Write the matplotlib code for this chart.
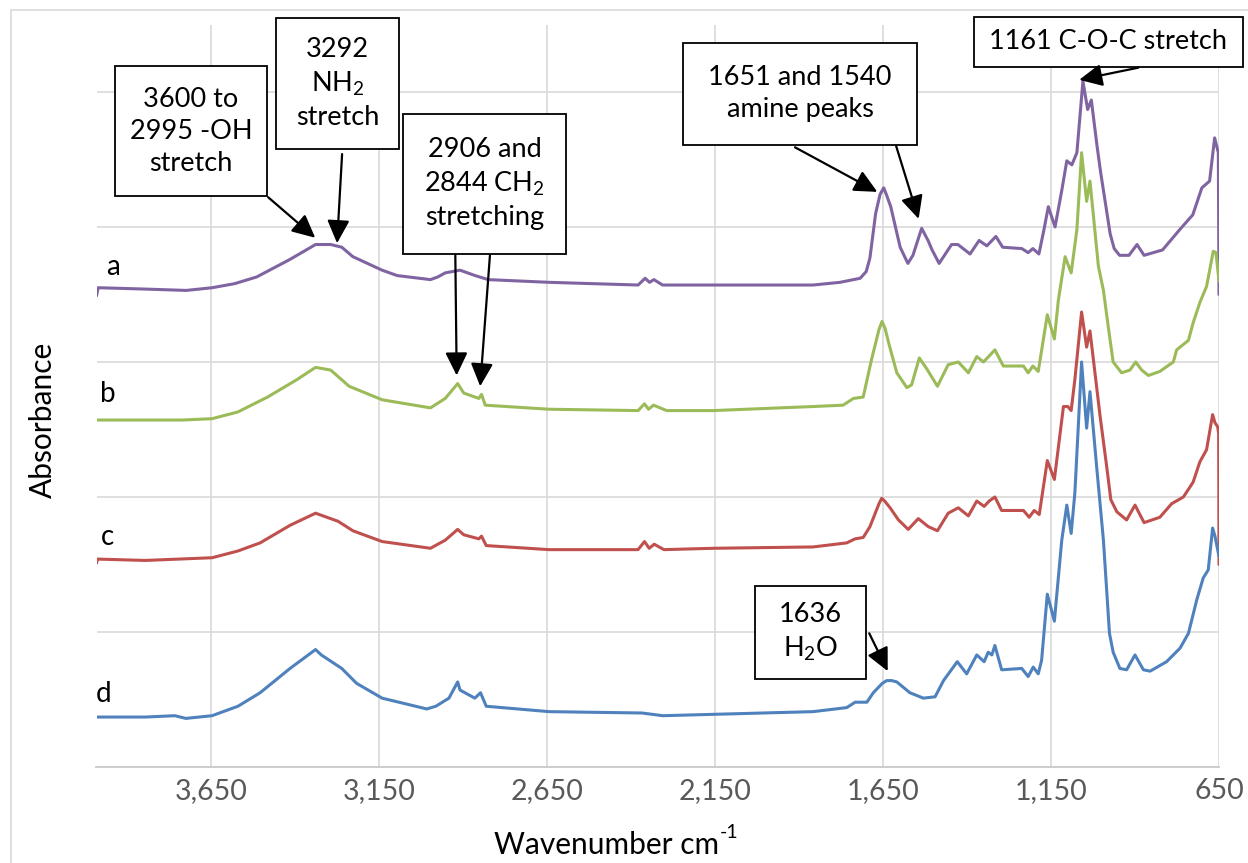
import matplotlib
matplotlib.use("Agg")
import matplotlib.pyplot as plt
from matplotlib.patches import Rectangle

plt.rcParams['font.family'] = ['Lato', 'DejaVu Sans']
plt.rcParams['mathtext.fontset'] = 'custom'
plt.rcParams['mathtext.rm'] = 'Lato'
plt.rcParams['mathtext.it'] = 'Lato:italic'
plt.rcParams['mathtext.bf'] = 'Lato:bold'

# ---- FTIR spectra (wavenumber in cm-1, stacked absorbance) ----
wn_a = [3991, 3986, 3846, 3724, 3647, 3580, 3514, 3415, 3339, 3294, 3261, 3228, 3141,
        3096, 2997, 2975, 2953, 2909, 2864, 2825, 2644, 2379, 2358, 2345, 2332, 2306,
        2156, 1858, 1778, 1718, 1700, 1689, 1672, 1659, 1648, 1640, 1627, 1599, 1576,
        1561, 1535, 1516, 1504, 1483, 1446, 1427, 1391, 1364, 1341, 1314, 1294, 1237,
        1218, 1204, 1186, 1171, 1158, 1138, 1118, 1103, 1088, 1073, 1055, 1041, 1030,
        1013, 1002, 974, 962, 946, 918, 894, 873, 818, 767, 728, 701, 678, 663, 656,
        652, 650]
abs_a = [0.349, 0.355, 0.354, 0.353, 0.355, 0.358, 0.363, 0.376, 0.387, 0.387, 0.385,
         0.378, 0.368, 0.364, 0.361, 0.363, 0.366, 0.368, 0.364, 0.361, 0.359, 0.357,
         0.362, 0.359, 0.361, 0.357, 0.357, 0.357, 0.359, 0.362, 0.367, 0.377, 0.410,
         0.424, 0.429, 0.424, 0.415, 0.385, 0.373, 0.379, 0.399, 0.390, 0.383, 0.373,
         0.387, 0.387, 0.380, 0.390, 0.386, 0.393, 0.385, 0.384, 0.381, 0.384, 0.380,
         0.398, 0.415, 0.400, 0.427, 0.449, 0.446, 0.455, 0.508, 0.487, 0.494, 0.460,
         0.440, 0.395, 0.384, 0.379, 0.379, 0.387, 0.379, 0.383, 0.398, 0.409, 0.429,
         0.434, 0.466, 0.459, 0.455, 0.350]

wn_b = [3991, 3736, 3647, 3570, 3482, 3394, 3339, 3294, 3239, 3141, 2997, 2953, 2916,
        2898, 2853, 2845, 2834, 2644, 2379, 2360, 2348, 2333, 2294, 2156, 1858, 1769,
        1738, 1709, 1684, 1662, 1653, 1644, 1632, 1609, 1579, 1565, 1542, 1520, 1488,
        1456, 1426, 1396, 1371, 1351, 1332, 1317, 1292, 1232, 1218, 1204, 1188, 1161,
        1140, 1128, 1108, 1090, 1073, 1059, 1044, 1034, 1009, 994, 979, 965, 940, 915,
        898, 880, 860, 826, 786, 776, 741, 727, 707, 687, 667, 659, 653, 650]
abs_b = [0.257, 0.257, 0.258, 0.263, 0.274, 0.287, 0.296, 0.294, 0.282, 0.272, 0.266,
         0.273, 0.284, 0.277, 0.273, 0.276, 0.268, 0.265, 0.264, 0.269, 0.265, 0.268,
         0.264, 0.264, 0.267, 0.268, 0.273, 0.274, 0.302, 0.324, 0.330, 0.325, 0.313,
         0.292, 0.281, 0.283, 0.303, 0.295, 0.282, 0.298, 0.300, 0.292, 0.304, 0.300,
         0.305, 0.309, 0.297, 0.297, 0.292, 0.297, 0.293, 0.335, 0.317, 0.346, 0.378,
         0.366, 0.398, 0.455, 0.419, 0.434, 0.371, 0.353, 0.325, 0.300, 0.292, 0.294,
         0.300, 0.294, 0.290, 0.293, 0.300, 0.309, 0.316, 0.329, 0.344, 0.356, 0.382,
         0.381, 0.367, 0.360]

wn_c = [3991, 3988, 3846, 3647, 3570, 3504, 3415, 3339, 3272, 3228, 3141, 2997, 2953,
        2916, 2898, 2853, 2845, 2831, 2644, 2379, 2360, 2346, 2331, 2302, 2156, 1858,
        1758, 1733, 1709, 1689, 1662, 1654, 1645, 1629, 1604, 1575, 1545, 1515, 1488,
        1456, 1426, 1396, 1371, 1349, 1334, 1317, 1297, 1232, 1215, 1200, 1185, 1161,
        1140, 1113, 1100, 1090, 1079, 1059, 1044, 1034, 1024, 1004, 984, 972, 954, 925,
        900, 873, 826, 791, 756, 727, 707, 687, 669, 662, 654, 651, 650]
abs_c = [0.151, 0.154, 0.153, 0.155, 0.160, 0.166, 0.179, 0.188, 0.182, 0.175, 0.167,
         0.162, 0.168, 0.176, 0.172, 0.169, 0.171, 0.164, 0.161, 0.161, 0.167, 0.162,
         0.165, 0.161, 0.162, 0.163, 0.166, 0.169, 0.170, 0.178, 0.195, 0.199, 0.197,
         0.192, 0.183, 0.176, 0.184, 0.178, 0.175, 0.188, 0.192, 0.186, 0.197, 0.193,
         0.197, 0.200, 0.190, 0.190, 0.185, 0.190, 0.187, 0.227, 0.213, 0.267, 0.267,
         0.264, 0.287, 0.337, 0.311, 0.323, 0.302, 0.260, 0.222, 0.198, 0.189, 0.183,
         0.194, 0.181, 0.185, 0.195, 0.200, 0.211, 0.226, 0.235, 0.261, 0.255, 0.252,
         0.247, 0.150]

wn_d = [3991, 3846, 3758, 3725, 3647, 3570, 3504, 3415, 3339, 3322, 3261, 3217, 3141,
        3008, 2981, 2942, 2916, 2909, 2865, 2848, 2831, 2644, 2368, 2305, 2156, 1858,
        1758, 1733, 1698, 1679, 1652, 1639, 1624, 1609, 1570, 1530, 1495, 1470, 1429,
        1401, 1371, 1349, 1337, 1326, 1317, 1297, 1237, 1218, 1203, 1188, 1178, 1161,
        1140, 1118, 1103, 1090, 1079, 1059, 1044, 1034, 1014, 994, 976, 965, 945, 925,
        900, 875, 855, 806, 766, 741, 716, 697, 682, 669, 662, 654, 650]
abs_d = [0.037, 0.037, 0.038, 0.036, 0.038, 0.045, 0.055, 0.073, 0.087, 0.083, 0.073,
         0.062, 0.051, 0.043, 0.045, 0.051, 0.063, 0.057, 0.051, 0.055, 0.045, 0.041,
         0.040, 0.038, 0.039, 0.041, 0.044, 0.048, 0.048, 0.055, 0.062, 0.064, 0.064,
         0.063, 0.055, 0.051, 0.052, 0.064, 0.078, 0.069, 0.083, 0.078, 0.085, 0.083,
         0.090, 0.072, 0.073, 0.067, 0.074, 0.069, 0.079, 0.128, 0.108, 0.168, 0.194,
         0.173, 0.203, 0.300, 0.251, 0.278, 0.222, 0.168, 0.099, 0.085, 0.073, 0.072,
         0.083, 0.072, 0.071, 0.078, 0.088, 0.099, 0.124, 0.140, 0.146, 0.177, 0.171,
         0.161, 0.156]

series = [
    ("a", wn_a, abs_a, "#8064A2", (3941, 0.370)),
    ("b", wn_b, abs_b, "#9BBB59", (3956, 0.276)),
    ("c", wn_c, abs_c, "#C0504D", (3959, 0.170)),
    ("d", wn_d, abs_d, "#4F81BD", (3971, 0.054)),
]

x_ticks = [3650, 3150, 2650, 2150, 1650, 1150, 650]
x_tick_labels = ["3,650", "3,150", "2,650", "2,150", "1,650", "1,150", "650"]

W, H = 1248, 863
fig = plt.figure(figsize=(W / 100, H / 100), dpi=100)
fig.patch.set_facecolor("white")

# outer chart frame
fig.add_artist(Rectangle((11 / W, -0.1), 1.5, 1.1 - 10 / H, transform=fig.transFigure,
                         fill=False, edgecolor="#D9D9D9", lw=1.2))

ax = fig.add_axes([96.5 / W, (H - 767) / H, (1219 - 96.5) / W, (767 - 25) / H])
ax.set_xlim(3991, 650)
ax.set_ylim(0, 0.5496)

for name, wn, ab, col, lab in series:
    ax.plot(wn, ab, color=col, lw=2.2, solid_joinstyle="round",
            solid_capstyle="round", zorder=3)
    ax.text(lab[0], lab[1], name, fontsize=20, ha="center", va="center", color="black")

ax.set_xticks(x_ticks)
ax.set_xticklabels(x_tick_labels)
ax.set_yticks([0.1, 0.2, 0.3, 0.4, 0.5])
ax.set_yticklabels([])
ax.tick_params(axis="x", length=0, pad=8, labelsize=20.5, labelcolor="#595959")
ax.tick_params(axis="y", length=0)
ax.grid(True, color="#D9D9D9", lw=1.2, zorder=0)
ax.set_axisbelow(True)
for s in ("top", "left", "right"):
    ax.spines[s].set_visible(False)
ax.spines["bottom"].set_color("#C8C8C8")
ax.spines["bottom"].set_linewidth(1.3)

fig.text(43 / W, 1 - 420 / H, "Absorbance", rotation=90, fontsize=21.5,
         ha="center", va="center")
fig.text(719 / W, 1 - 845 / H, "Wavenumber cm", fontsize=21.5,
         ha="right", va="center")
fig.text(720 / W, 1 - 832 / H, "-1", fontsize=14, ha="left", va="center")


def label_box(x0, x1, y0, y1, text):
    ax.add_patch(Rectangle((x0, y0), x1 - x0, y1 - y0, facecolor="white",
                           edgecolor="black", lw=1.3, clip_on=False, zorder=5))
    ax.text((x0 + x1) / 2, (y0 + y1) / 2, text, ha="center", va="center",
            fontsize=19.5, linespacing=1.35, zorder=6, clip_on=False)


def arrow(start, tip):
    ax.annotate("", xy=tip, xytext=start, zorder=7, annotation_clip=False,
                arrowprops=dict(arrowstyle="-|>,head_length=0.7,head_width=0.34",
                                mutation_scale=20, color="black", lw=1.6,
                                shrinkA=0, shrinkB=0))


label_box(3936, 3483, 0.423, 0.519, "3600 to\n2995 -OH\nstretch")
label_box(3456, 3090, 0.458, 0.555, "3292\nNH$_{\\mathregular{2}}$\nstretch")
label_box(3078, 2593, 0.380, 0.484, "2906 and\n2844 CH$_{\\mathregular{2}}$\nstretching")
label_box(2245, 1549, 0.461, 0.536, "1651 and 1540\namine peaks")
label_box(1379, 579, 0.5185, 0.5556, "1161 C-O-C stretch")
label_box(2031, 1700, 0.065, 0.134, "1636\nH$_{\\mathregular{2}}$O")

arrow((3480, 0.422), (3340, 0.392))
arrow((3260, 0.454), (3275, 0.388))
arrow((2923, 0.379), (2919, 0.290))
arrow((2820, 0.379), (2849, 0.282))
arrow((1912, 0.459), (1667, 0.426))
arrow((1611, 0.460), (1544, 0.406))
arrow((890, 0.518), (1066, 0.509))
arrow((1691, 0.099), (1636, 0.071))

fig.savefig("out.png", dpi=100)
